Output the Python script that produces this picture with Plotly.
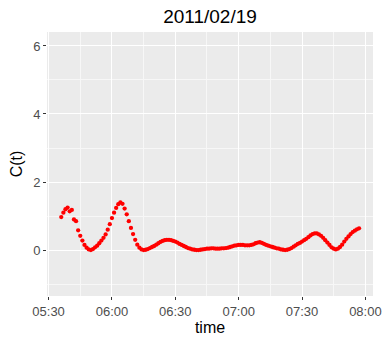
import pandas as pd
import plotly.graph_objects as go

# one reading per minute, starting 05:36
start_time = "2011-02-19 05:36"
ct_values = [
    0.97, 1.10, 1.20, 1.25, 1.14, 1.18, 0.90, 0.85, 0.58, 0.42,
    0.28, 0.15, 0.07, 0.02, 0.00, 0.03, 0.08, 0.13, 0.20, 0.28,
    0.36, 0.46, 0.60, 0.76, 0.94, 1.10, 1.24, 1.35, 1.40, 1.36,
    1.22, 1.05, 0.85, 0.65, 0.47, 0.30, 0.16, 0.07, 0.02, 0.00,
    0.01, 0.03, 0.06, 0.09, 0.12, 0.16, 0.20, 0.24, 0.27, 0.29,
    0.30, 0.30, 0.29, 0.27, 0.25, 0.22, 0.18, 0.15, 0.12, 0.09,
    0.06, 0.04, 0.02, 0.01, 0.00, 0.00, 0.01, 0.02, 0.03, 0.04,
    0.04, 0.05, 0.05, 0.04, 0.04, 0.04, 0.05, 0.05, 0.06, 0.07,
    0.09, 0.11, 0.13, 0.14, 0.15, 0.15, 0.15, 0.14, 0.14, 0.14,
    0.15, 0.17, 0.20, 0.22, 0.23, 0.21, 0.18, 0.15, 0.13, 0.11,
    0.09, 0.07, 0.05, 0.04, 0.02, 0.01, 0.00, 0.01, 0.03, 0.06,
    0.10, 0.14, 0.18, 0.21, 0.25, 0.29, 0.33, 0.38, 0.43, 0.47,
    0.49, 0.49, 0.46, 0.42, 0.36, 0.29, 0.22, 0.15, 0.08, 0.04,
    0.02, 0.04, 0.09, 0.16, 0.25, 0.33, 0.40, 0.47, 0.53, 0.57,
    0.61, 0.64,
]
times = pd.date_range(start_time, periods=len(ct_values), freq="1min")

y_ticks = [0, 2, 4, 6]

fig = go.Figure(go.Scatter(x=times, y=ct_values, mode="markers",
                           marker=dict(color="red", size=4.3, line=dict(width=0))))

fig.update_layout(
    width=382, height=345,
    margin=dict(l=47, r=9, t=32, b=49),
    paper_bgcolor="white", plot_bgcolor="#EBEBEB",
    font=dict(family="Liberation Sans, Arial, sans-serif"),
    showlegend=False,
    title=dict(text="2011/02/19", x=0.5, xref="paper", y=1 - 16 / 345, yref="container",
               yanchor="middle", font=dict(size=19, color="black")),
)
fig.update_xaxes(
    range=["2011-02-19 05:29:15", "2011-02-19 08:03:36"],
    tick0="2011-02-19 05:30", dtick=30 * 60 * 1000, tickformat="%H:%M",
    showgrid=True, gridcolor="white", gridwidth=1.1,
    minor=dict(showgrid=True, gridcolor="#F7F7F7", gridwidth=0.6, dtick=15 * 60 * 1000,
               tick0="2011-02-19 05:30"),
    ticks="outside", ticklen=3, tickcolor="#333333",
    tickfont=dict(size=13, color="#4D4D4D"),
    zeroline=False, showline=False, automargin=False,
    title=dict(text="time", font=dict(size=16, color="black"), standoff=2),
)
fig.update_yaxes(
    range=[-1.35, 6.41], tickvals=y_ticks,
    showgrid=True, gridcolor="white", gridwidth=1.1,
    minor=dict(showgrid=True, gridcolor="#F7F7F7", gridwidth=0.6, tickvals=[-1, 1, 3, 5]),
    ticks="outside", ticklen=3, tickcolor="#333333",
    tickfont=dict(size=13, color="#4D4D4D"),
    zeroline=False, showline=False, automargin=False,
    title=dict(text="C(t)", font=dict(size=16, color="black"), standoff=6),
)

# drop the browser's default body margin so the figure sits at the window corner
fig.write_html("out.html", config={"displayModeBar": False},
               post_script="document.body.style.margin='0';")
